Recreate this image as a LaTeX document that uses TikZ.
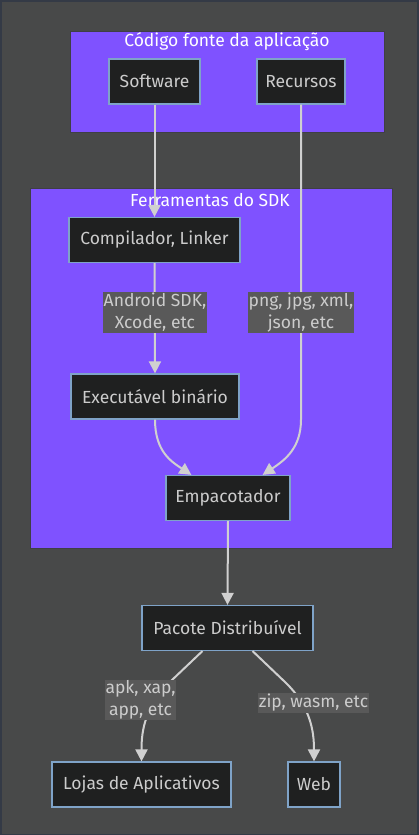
\documentclass[tikz,border=0pt]{standalone}
\usepackage{fontspec}
\setmainfont{Fira Sans}
\usetikzlibrary{arrows.meta}
\definecolor{bgdark}{HTML}{484949}
\definecolor{bgframe}{HTML}{343A46}
\definecolor{grouppurple}{HTML}{7F52FF}
\definecolor{groupline}{HTML}{3F3F46}
\definecolor{boxfill}{HTML}{1F2020}
\definecolor{boxline}{HTML}{7FA3C8}
\definecolor{textgray}{HTML}{CCCCCC}
\definecolor{labelfill}{HTML}{595959}
\definecolor{edgegray}{HTML}{D0D0D0}
\tikzset{
  groupbox/.style={fill=grouppurple, draw=groupline, line width=1pt},
  grouptitle/.style={text=white, font=\fontsize{17.5}{21}\selectfont},
  blockbox/.style={fill=boxfill, draw=boxline, line width=1.2pt, text=textgray,
    minimum height=45pt, inner sep=0pt, font=\fontsize{17.5}{21}\selectfont},
  edgelabel/.style={fill=labelfill, text=textgray, align=center, inner sep=1pt,
    font=\fontsize{17.5}{22}\selectfont},
  flow/.style={draw=edgegray, line width=2pt, -{Triangle[length=12pt,width=12pt]}},
}
\begin{document}
\begin{tikzpicture}[x=1pt,y=-1pt]
  \useasboundingbox (0,0) rectangle (419,835);
  \fill[bgframe] (0,0) rectangle (419,835);
  \fill[bgdark] (2,2) rectangle (417,834);
  % subgraphs
  \draw[groupbox] (70,31) rectangle (384,132);
  \node[grouptitle] (titleA) at (227,42) {Código fonte da aplicação};
  \draw[groupbox] (30,188) rectangle (392,548);
  \node[grouptitle] (titleB) at (210,200) {Ferramentas do SDK};
  % nodes
  \node[blockbox, minimum width=91pt] (soft) at (154.5,81.5) {Software};
  \node[blockbox, minimum width=88pt] (rec) at (301,81.5) {Recursos};
  \node[blockbox, minimum width=171pt] (comp) at (154.5,240) {Compilador, Linker};
  \node[blockbox, minimum width=168pt] (exe) at (155,396.5) {Executável binário};
  \node[blockbox, minimum width=124pt] (emp) at (228,498) {Empacotador};
  \node[blockbox, minimum width=171pt] (pkg) at (227.5,628) {Pacote Distribuível};
  \node[blockbox, minimum width=179pt] (store) at (141.5,784.5) {Lojas de Aplicativos};
  \node[blockbox, minimum width=52pt] (web) at (314,784.5) {Web};
  % edges
  \draw[flow] (soft.south) -- (comp.north);
  \draw[flow] (comp.south) -- (exe.north);
  \draw[flow] (rec.south) -- (rec.south |- exe.south)
    .. controls (301,448) and (285,460) .. ([xshift=-28pt]emp.north east);
  \draw[flow] (exe.south) .. controls (155,452) and (172,462) .. ([xshift=26pt]emp.north west);
  \draw[flow] (emp.south) -- (pkg.north);
  \draw[flow] ([xshift=61pt]pkg.south west) -- (172,680)
    .. controls (145,706) and (141.5,730) .. (store.north);
  \draw[flow] ([xshift=-61pt]pkg.south east) -- (285,682)
    .. controls (310,706) and (314,730) .. (web.north);
  % labels
  \node[edgelabel] (lblA) at (155,312.5) {Android SDK,\\Xcode, etc};
  \node[edgelabel] (lblB) at (301,312.5) {png, jpg, xml,\\json, etc};
  \node[edgelabel] (lblC) at (140.5,700) {apk, xap,\\app, etc};
  \node[edgelabel] (lblD) at (313.5,703) {zip, wasm, etc};
\end{tikzpicture}
\end{document}
